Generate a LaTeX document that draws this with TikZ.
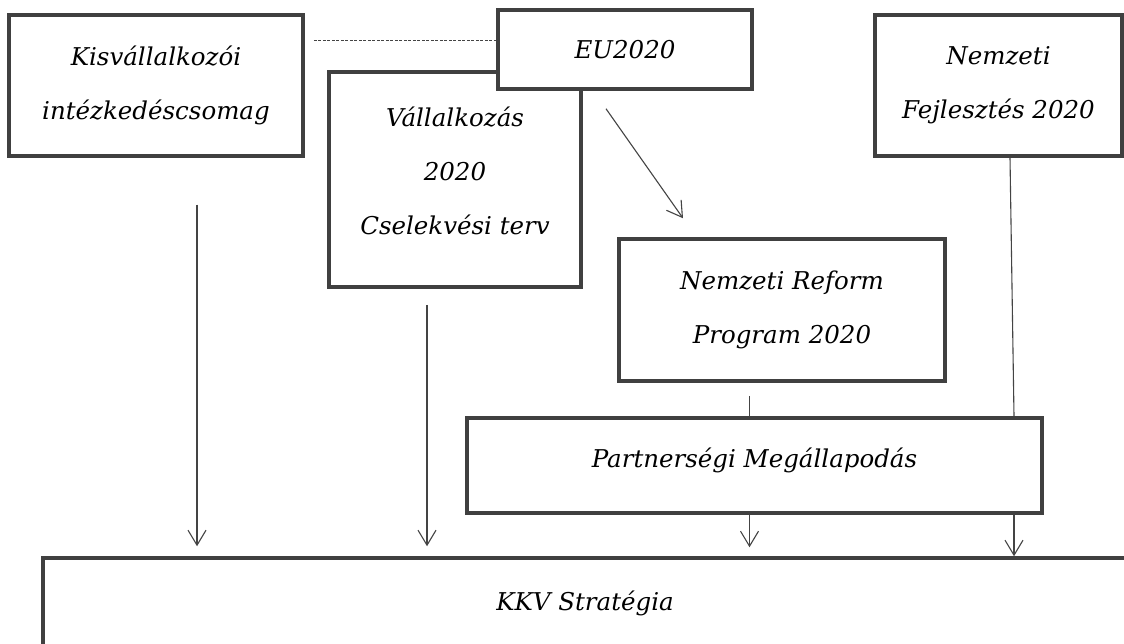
\documentclass[tikz,border=0pt]{standalone}
\usepackage{fontspec}
\setmainfont{DejaVu Serif}
\usetikzlibrary{arrows.meta,calc}
\definecolor{boxgray}{HTML}{404040}
\definecolor{linegray}{HTML}{444444}
\newcommand\txtfont{\itshape\fontsize{24.5}{54}\selectfont}
\begin{document}
\begin{tikzpicture}[x=1pt,y=-1pt,
  box/.style={draw=boxgray,line width=3.5pt,fill=white,inner sep=0pt,align=center,font=\txtfont},
  conn/.style={draw=linegray,line width=1.1pt},
  arr/.style={conn,-{Straight Barb[length=15pt,width=18pt]}},
  dashline/.style={draw=linegray,line width=1.3pt,dash pattern=on 3pt off 1.5pt}]
\useasboundingbox[fill=white] (0,0) rectangle (1124,644);
\clip (0,0) rectangle (1124,644);

\node[box,minimum width=294,minimum height=141] (kis) at (156,85.5) {Kisvállalkozói\\intézkedéscsomag};
\node[box,minimum width=252,minimum height=215,text depth=18pt] (vall) at (455,179.5) {Vállalkozás\\2020\\Cselekvési terv};
\node[box,minimum width=254,minimum height=79] (eu) at (625,49.5) {EU2020};
\node[box,minimum width=247,minimum height=141] (nfe) at (998.5,85.5) {Nemzeti\\Fejlesztés 2020};
\node[box,minimum width=326,minimum height=142] (nrp) at (782,310) {Nemzeti Reform\\Program 2020};
\node[box,minimum width=575,minimum height=95,text depth=15pt] (pm) at (754.5,465.5) {Partnerségi Megállapodás};
\node[box,minimum width=1084,minimum height=90] (kkv) at (585,603) {KKV Stratégia};

% dashed link
\coordinate (d1) at ($(kis.north east)+(9,27)$);
\draw[dashline] (d1) -- (d1 -| eu.west);

% EU2020 -> NRP
\draw[arr] ($(eu.south)+(-19,18)$) -- ($(nrp.north)+(-99,-19)$);

% Kis -> KKV
\coordinate (k1) at ($(kis.south)+(41,47)$);
\draw[arr] (k1) -- ($(k1 |- kkv.north)+(0,-10)$);

% Vall -> KKV
\coordinate (v1) at ($(vall.south)+(-28,16)$);
\draw[arr] (v1) -- ($(v1 |- kkv.north)+(0,-10)$);

% NRP -> PM -> KKV
\coordinate (n1) at ($(nrp.south)+(-32.5,13)$);
\draw[conn] (n1) -- (n1 |- pm.north);
\coordinate (n2) at (n1 |- pm.south);
\draw[arr] (n2) -- ($(n2 |- kkv.north)+(0,-9)$);

% NFe -> PM -> KKV
\coordinate (f1) at ($(nfe.south)+(11.5,0)$);
\coordinate (f2) at ($(pm.north)+(259.5,0)$);
\draw[conn] (f1) -- (f2);
\coordinate (f3) at (f2 |- pm.south);
\draw[arr] (f3) -- (f3 |- kkv.north);
\end{tikzpicture}
\end{document}
